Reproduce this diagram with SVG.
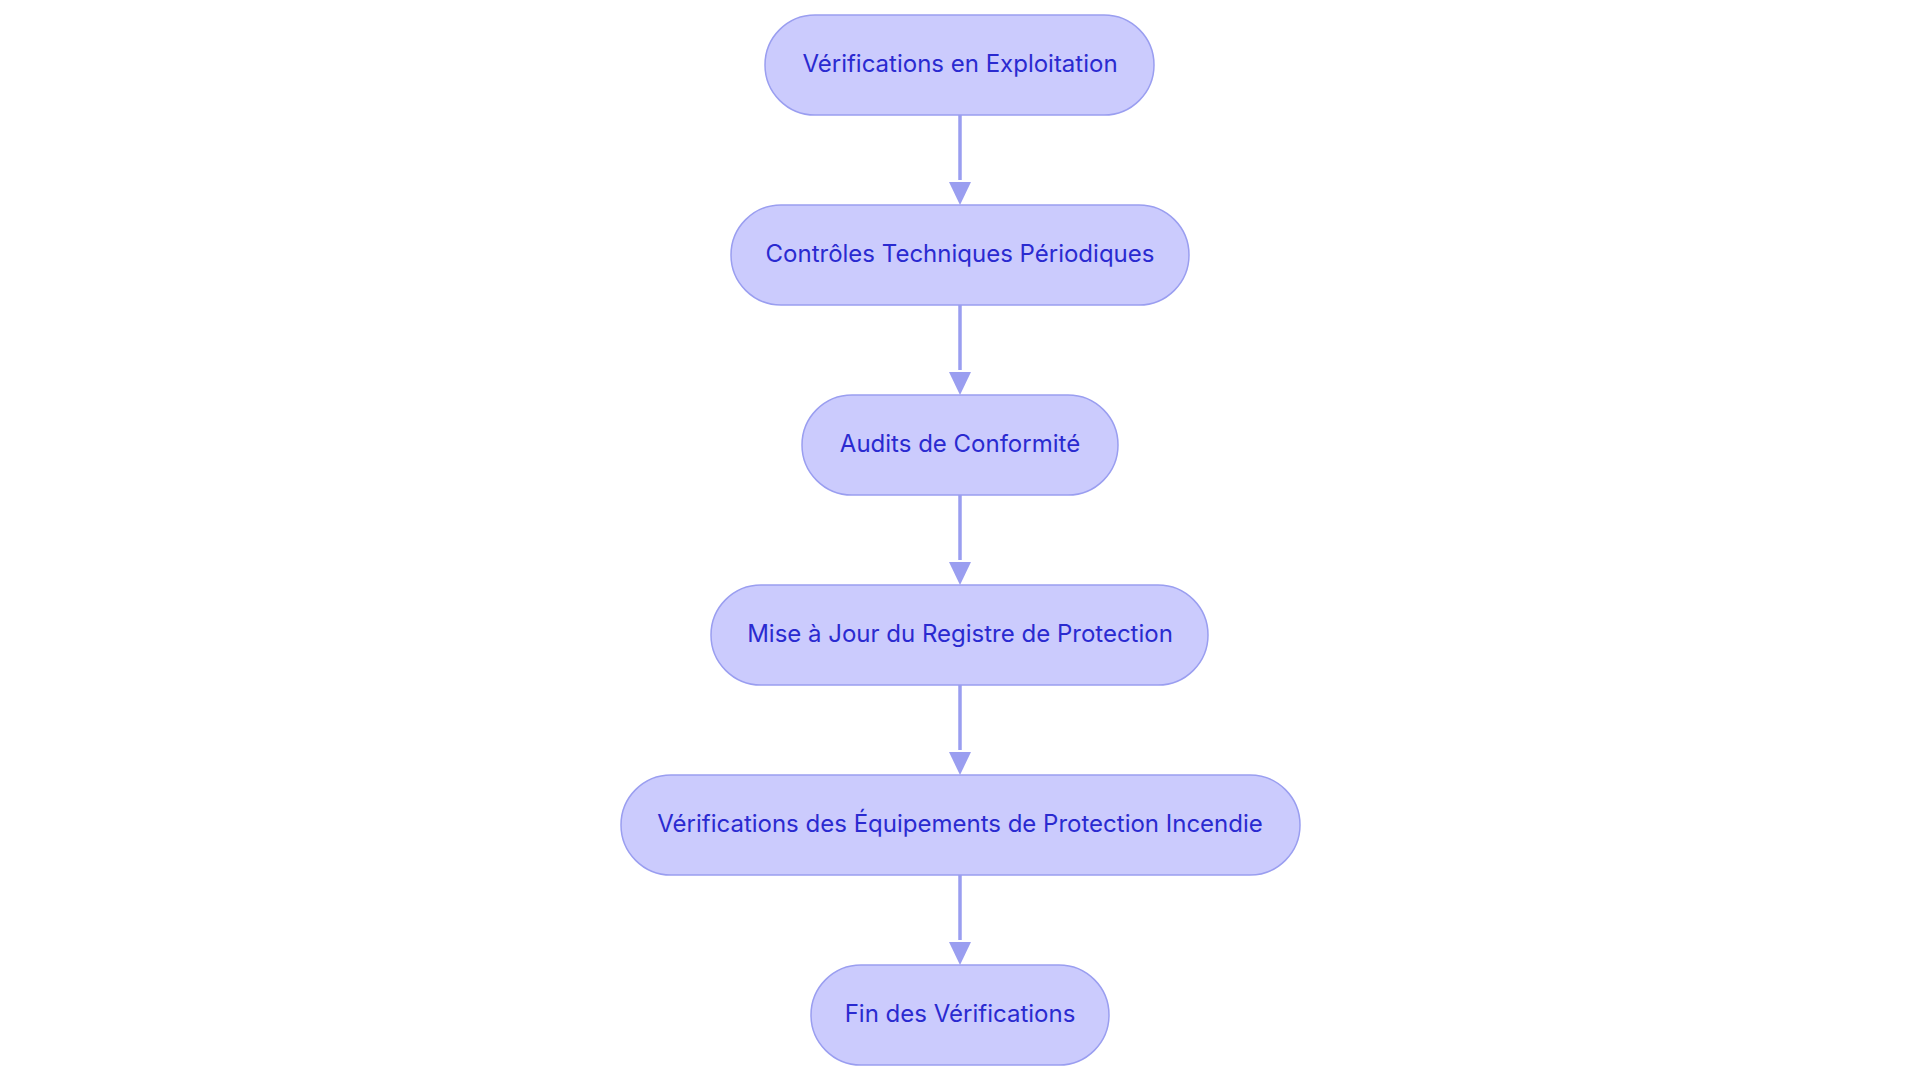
<svg xmlns="http://www.w3.org/2000/svg" width="1920" height="1083" viewBox="0 0 1920 1083">
<defs>
<style>
.n rect{fill:#cbcbfd;stroke:#9a9ef0;stroke-width:1.5}
.n text{font-family:Inter,"Liberation Sans",sans-serif;font-size:24px;fill:#2a2ad0;text-anchor:middle;dominant-baseline:central}
.e line{stroke:#9a9ef0;stroke-width:3.5}
</style>
<marker id="a" viewBox="0 0 10 10" refX="10" refY="5" markerWidth="6" markerHeight="6" orient="auto" markerUnits="userSpaceOnUse" style="overflow:visible">
<path d="M0,0L10,5L0,10z" fill="#9a9ef0" transform="scale(2.2)" />
</marker>
</defs>
<rect width="1920" height="1083" fill="#fff"/>
<g class="e">
<line x1="960" y1="115" x2="960" y2="180"/><path d="M949,182L971,182L960,205z" fill="#9a9ef0"/>
<line x1="960" y1="305" x2="960" y2="370"/><path d="M949,372L971,372L960,395z" fill="#9a9ef0"/>
<line x1="960" y1="495" x2="960" y2="560"/><path d="M949,562L971,562L960,585z" fill="#9a9ef0"/>
<line x1="960" y1="685" x2="960" y2="750"/><path d="M949,752L971,752L960,775z" fill="#9a9ef0"/>
<line x1="960" y1="875" x2="960" y2="940"/><path d="M949,942L971,942L960,965z" fill="#9a9ef0"/>
</g>
<g id="n1" class="n"><rect x="765" y="15" width="389" height="100" rx="50"/><text x="960" y="63">Vérifications en Exploitation</text></g>
<g id="n2" class="n"><rect x="731" y="205" width="458" height="100" rx="50"/><text x="960" y="253">Contrôles Techniques Périodiques</text></g>
<g id="n3" class="n"><rect x="802" y="395" width="316" height="100" rx="50"/><text x="960" y="443">Audits de Conformité</text></g>
<g id="n4" class="n"><rect x="711" y="585" width="497" height="100" rx="50"/><text x="960" y="633">Mise à Jour du Registre de Protection</text></g>
<g id="n5" class="n"><rect x="621" y="775" width="679" height="100" rx="50"/><text x="960" y="823">Vérifications des Équipements de Protection Incendie</text></g>
<g id="n6" class="n"><rect x="811" y="965" width="298" height="100" rx="50"/><text x="960" y="1013">Fin des Vérifications</text></g>
</svg>
